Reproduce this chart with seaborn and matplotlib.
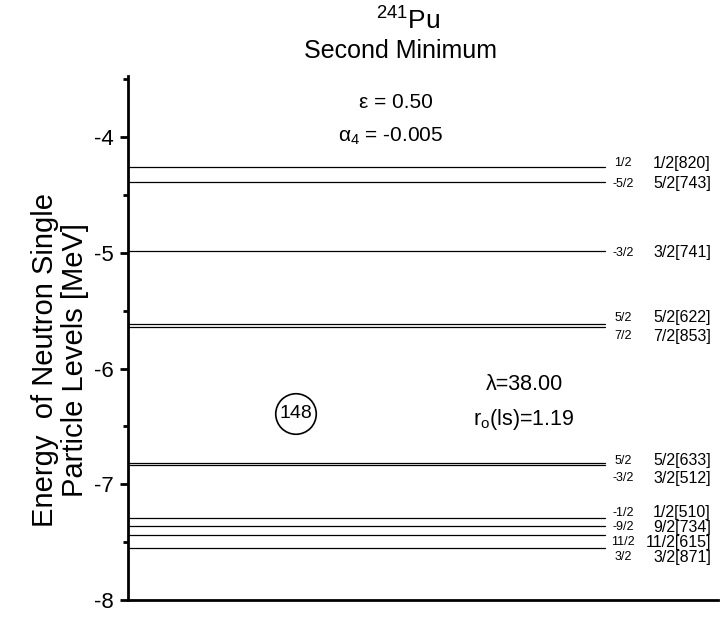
import matplotlib
matplotlib.use("Agg")
import matplotlib.pyplot as plt
import matplotlib.transforms as mtransforms
import seaborn as sns
import pandas as pd

# ---- data ----
levels = ["1/2[820]", "5/2[743]", "3/2[741]", "5/2[622]", "7/2[853]",
          "5/2[633]", "3/2[512]", "1/2[510]", "9/2[734]", "11/2[615]", "3/2[871]"]
k_labels = ["1/2", "-5/2", "-3/2", "5/2", "7/2", "5/2", "-3/2", "-1/2", "-9/2", "11/2", "3/2"]
energies = [-4.257, -4.386, -4.98, -5.61, -5.64, -6.815, -6.835, -7.29, -7.36, -7.44, -7.55]
yticks = [-4, -5, -6, -7, -8]

# label vertical offsets (pixels, positive = down) to avoid overlap
label_dy = [-4, 2, 2, -6, 9, -2, 13, -5, 1.5, 7, 9.5]

sns.set_theme(style="white")
plt.rcParams["font.family"] = ["Liberation Sans", "DejaVu Sans"]
plt.rcParams["mathtext.fontset"] = "custom"
plt.rcParams["mathtext.rm"] = "Liberation Sans"
plt.rcParams["mathtext.it"] = "Liberation Sans"
plt.rcParams["text.color"] = "black"
plt.rcParams["axes.labelcolor"] = "black"
plt.rcParams["ytick.color"] = "black"

fig = plt.figure(figsize=(7.21, 6.33), dpi=100)
ax = fig.add_axes([128 / 721, 33 / 633, (718 - 128) / 721, (600 - 76) / 633])

rows = []
for name, e in zip(levels, energies):
    rows.append({"level": name, "x": 0.0, "E": e})
    rows.append({"level": name, "x": 1.0, "E": e})
df = pd.DataFrame(rows)
sns.lineplot(data=df, x="x", y="E", units="level", estimator=None,
             color="black", lw=0.9, ax=ax, legend=False)

ax.set_xlim(0, 590 / (605 - 128))
ax.set_ylim(-8, -3.47)
ax.set_xticks([])
ax.set_yticks(yticks)
ax.set_yticklabels([str(t) for t in yticks], fontsize=16)
ax.set_yticks([-7.5, -6.5, -5.5, -4.5, -3.5], minor=True)
ax.tick_params(axis="y", which="major", direction="out", length=6, width=2, left=True, pad=4)
ax.tick_params(axis="y", which="minor", direction="out", length=3.5, width=2, left=True)
ax.set_xlabel("")
ax.set_ylabel("")
for s in ["top", "right"]:
    ax.spines[s].set_visible(False)
for s in ["left", "bottom"]:
    ax.spines[s].set_color("black")
    ax.spines[s].set_linewidth(2)

fig.text(60 / 721, 1 - 360 / 633, "Energy  of Neutron Single\nParticle Levels [MeV]",
         rotation=90, ha="center", va="center", fontsize=21, linespacing=1.1,
         multialignment="center")

trans = mtransforms.blended_transform_factory(ax.transAxes, ax.transData)
for e, kl, name, dy in zip(energies, k_labels, levels, label_dy):
    ax.annotate(kl, xy=((623 - 128) / 590, e), xycoords=trans, xytext=(0, -dy * 0.72),
                textcoords="offset points", ha="center", va="center", fontsize=9)
    ax.annotate(name, xy=((711 - 128) / 590, e), xycoords=trans, xytext=(0, -dy * 0.72),
                textcoords="offset points", ha="right", va="center", fontsize=11.5)

fig.text(408 / 721, 1 - 21 / 633, r"$^{241}$Pu", ha="center", va="center", fontsize=19)
fig.text(400 / 721, 1 - 51 / 633, "Second Minimum", ha="center", va="center", fontsize=18)
fig.text(396 / 721, 1 - 103 / 633, "ε = 0.50", ha="center", va="center", fontsize=15)
fig.text(391 / 721, 1 - 136 / 633, r"α$_{4}$ = -0.005", ha="center", va="center", fontsize=15)
fig.text(524 / 721, 1 - 385 / 633, "λ=38.00", ha="center", va="center", fontsize=15.5)
fig.text(524 / 721, 1 - 420 / 633, r"r$_{\rm o}$(ls)=1.19", ha="center", va="center", fontsize=15.5)
fig.text(296 / 721, 1 - 414 / 633, "148", ha="center", va="center", fontsize=14,
         bbox=dict(boxstyle="circle,pad=0.2", fc="white", ec="black", lw=1.2))

fig.savefig("out.png", dpi=100)
